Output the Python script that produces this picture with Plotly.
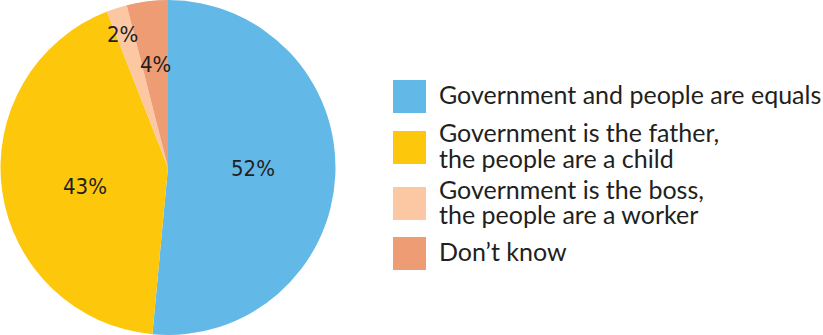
import math
import plotly.graph_objects as go

labels = ["Government and people are equals",
          "Government is the father,<br>the people are a child",
          "Government is the boss,<br>the people are a worker",
          "Don\u2019t know"]
values = [52, 43, 2, 4]
pct_text = ["52%", "43%", "2%", "4%"]
colors = ["#62b9e8", "#fdc70c", "#fcc7a3", "#ed9c74"]

W, H = 823, 335
cx, cy, R = 168, 167.5, 167.5
label_r = [0.51, 0.52, 0.85, 0.62]
nudge = [(0, -3), (3, 7), (-2, 3), (0, 0)]  # px tweaks for label placement

fig = go.Figure(go.Pie(
    labels=labels, values=values, sort=False, direction="clockwise",
    marker=dict(colors=colors, line=dict(width=0)),
    textinfo="none", hoverinfo="label+percent", showlegend=False,
    domain=dict(x=[0, 336 / W], y=[0, 1]),
))

pct_font = dict(family="DejaVu Sans Condensed, Liberation Sans Narrow, sans-serif",
                size=22, color="#231f20")
total = sum(values)
cum = 0
for v, t, rf, (dx, dy) in zip(values, pct_text, label_r, nudge):
    mid = (cum + v / 2) / total * 2 * math.pi
    cum += v
    x = cx + rf * R * math.sin(mid) + dx
    y = cy - rf * R * math.cos(mid) + dy
    fig.add_annotation(x=x / W, y=1 - y / H, xref="paper", yref="paper",
                       xanchor="center", yanchor="middle",
                       text=t, showarrow=False, font=pct_font)

# custom legend, big squares with text lines set close together
sq_top = [80, 131, 187, 237]
sq_size = 33
leg_font = dict(family="Lato, Noto Sans, sans-serif", size=25, color="#231f20")
for lab, col, top in zip(labels, colors, sq_top):
    fig.add_shape(type="rect", xref="paper", yref="paper",
                  x0=393 / W, x1=(393 + sq_size) / W,
                  y0=1 - (top + sq_size) / H, y1=1 - top / H,
                  fillcolor=col, line=dict(width=0))
    lines = lab.split("<br>")
    mid_y = top + sq_size / 2
    offs = [0] if len(lines) == 1 else [-12.5, 12.5]
    for ln, off in zip(lines, offs):
        fig.add_annotation(x=437 / W, y=1 - (mid_y + off - 2.5) / H,
                           xref="paper", yref="paper", xanchor="left", yanchor="middle",
                           text=ln, showarrow=False, align="left", font=leg_font)

fig.update_layout(width=W, height=H, margin=dict(l=0, r=0, t=0, b=0),
                  paper_bgcolor="white", plot_bgcolor="white")

fig.write_html("out.html", config={"displayModeBar": False},
               post_script="document.body.style.margin='0';")
